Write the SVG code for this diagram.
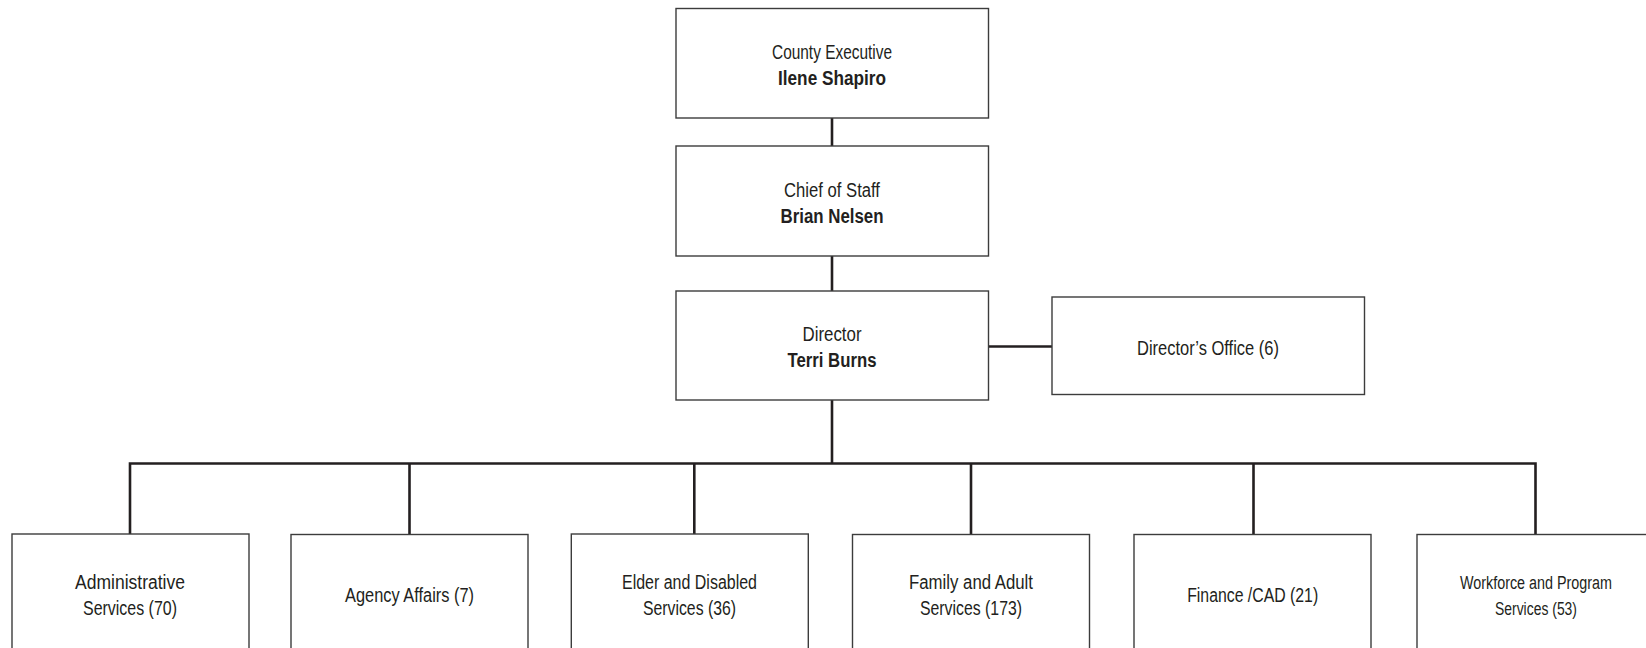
<svg xmlns="http://www.w3.org/2000/svg" width="1646" height="648" viewBox="0 0 1646 648">
  <style>
    .box { fill: #ffffff; stroke: #3c3c3c; stroke-width: 1.4; }
    .wire { fill: none; stroke: #231f20; stroke-width: 2.6; stroke-linecap: butt; }
    text { font-family: "Liberation Sans Narrow", "Liberation Sans", Arial, sans-serif; font-size: 19.5px; fill: #231f20; text-anchor: middle; }
    .name { font-weight: bold; }
    .small { font-size: 18px; }
  </style>

  <rect width="1646" height="648" fill="#ffffff"/>

  <!-- reporting lines -->
  <g id="connectors">
    <line class="wire" x1="832" y1="118" x2="832" y2="146"/>
    <line class="wire" x1="832" y1="256" x2="832" y2="291"/>
    <line class="wire" x1="988" y1="346.5" x2="1052" y2="346.5"/>
    <line class="wire" x1="832" y1="400" x2="832" y2="463.5"/>
    <polyline class="wire" points="130,534 130,463.5 1535.5,463.5 1535.5,534"/>
    <line class="wire" x1="409.5" y1="463.5" x2="409.5" y2="534"/>
    <line class="wire" x1="694.3" y1="463.5" x2="694.3" y2="534"/>
    <line class="wire" x1="971" y1="463.5" x2="971" y2="534"/>
    <line class="wire" x1="1253.5" y1="463.5" x2="1253.5" y2="534"/>
  </g>

  <g id="county-executive">
    <rect class="box" x="676" y="8.5" width="312.5" height="109.5"/>
    <text x="832" y="59" textLength="120" lengthAdjust="spacingAndGlyphs">County Executive</text>
    <text class="name" x="832" y="85" textLength="108" lengthAdjust="spacingAndGlyphs">Ilene Shapiro</text>
  </g>

  <g id="chief-of-staff">
    <rect class="box" x="676" y="146" width="312.5" height="110"/>
    <text x="832" y="196.5" textLength="96" lengthAdjust="spacingAndGlyphs">Chief of Staff</text>
    <text class="name" x="832" y="223" textLength="103" lengthAdjust="spacingAndGlyphs">Brian Nelsen</text>
  </g>

  <g id="director">
    <rect class="box" x="676" y="291" width="312.5" height="109"/>
    <text x="832" y="341" textLength="59" lengthAdjust="spacingAndGlyphs">Director</text>
    <text class="name" x="832" y="367" textLength="89" lengthAdjust="spacingAndGlyphs">Terri Burns</text>
  </g>

  <g id="directors-office">
    <rect class="box" x="1052" y="297" width="312.5" height="97.5"/>
    <text x="1208" y="355" textLength="142" lengthAdjust="spacingAndGlyphs">Director’s Office (6)</text>
  </g>

  <g id="administrative-services">
    <rect class="box" x="12" y="534" width="237" height="130"/>
    <text x="130" y="588.5" textLength="110" lengthAdjust="spacingAndGlyphs">Administrative</text>
    <text x="130" y="614.5" textLength="94" lengthAdjust="spacingAndGlyphs">Services (70)</text>
  </g>

  <g id="agency-affairs">
    <rect class="box" x="291" y="534.5" width="237" height="130"/>
    <text x="409.5" y="601.5" textLength="129" lengthAdjust="spacingAndGlyphs">Agency Affairs (7)</text>
  </g>

  <g id="elder-disabled-services">
    <rect class="box" x="571.3" y="534" width="237" height="130"/>
    <text x="689.5" y="588.5" textLength="135" lengthAdjust="spacingAndGlyphs">Elder and Disabled</text>
    <text x="689.5" y="614.5" textLength="93" lengthAdjust="spacingAndGlyphs">Services (36)</text>
  </g>

  <g id="family-adult-services">
    <rect class="box" x="852.5" y="534.5" width="237" height="130"/>
    <text x="971" y="588.5" textLength="124" lengthAdjust="spacingAndGlyphs">Family and Adult</text>
    <text x="971" y="614.5" textLength="102" lengthAdjust="spacingAndGlyphs">Services (173)</text>
  </g>

  <g id="finance-cad">
    <rect class="box" x="1134" y="534.5" width="237" height="130"/>
    <text x="1252.7" y="601.5" textLength="131" lengthAdjust="spacingAndGlyphs">Finance /CAD (21)</text>
  </g>

  <g id="workforce-program-services">
    <rect class="box" x="1417" y="534.5" width="237" height="130"/>
    <text class="small" x="1536" y="589" textLength="152" lengthAdjust="spacingAndGlyphs">Workforce and Program</text>
    <text class="small" x="1536" y="614.5" textLength="82" lengthAdjust="spacingAndGlyphs">Services (53)</text>
  </g>
</svg>
